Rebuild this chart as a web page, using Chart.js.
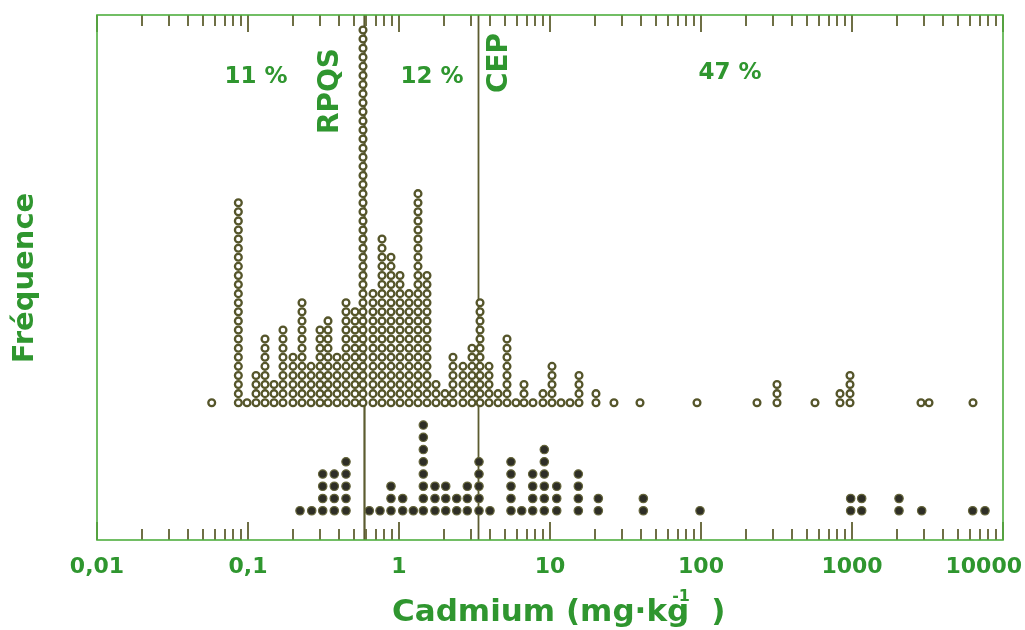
<!DOCTYPE html>
<html><head><meta charset="utf-8">
<script src="https://cdn.jsdelivr.net/npm/chart.js@4.4.1/dist/chart.umd.min.js"></script>
<style>html,body{margin:0;padding:0;background:#fff;}#wrap{width:1025px;height:630px;position:relative;}</style>
</head><body><div id="wrap"><canvas id="c" width="1025" height="630"></canvas></div>
<script>
// ---- data ----
const upperX = [0.0575, 0.0863, 0.0985, 0.113, 0.1296, 0.1487, 0.1705, 0.1986, 0.2279, 0.2614,
  0.2998, 0.3387, 0.3885, 0.4457, 0.5112, 0.5776, 0.6727, 0.7717, 0.885, 1.015,
  1.165, 1.336, 1.532, 1.758, 2.016, 2.278, 2.653, 3.044, 3.44, 3.945,
  4.525, 5.19, 5.954, 6.727, 7.717, 8.987, 10.31, 11.83, 13.57, 15.56,
  20.16, 26.53, 39.45, 94.1, 234.9, 318.6, 568.8, 833, 970, 2864, 3236, 6329];
const upperCount = [1, 23, 1, 4, 8, 3, 9, 6, 12, 5,
  9, 10, 6, 12, 11, 42, 13, 19, 17, 15,
  13, 24, 15, 3, 2, 6, 5, 7, 12, 5,
  2, 8, 1, 3, 1, 2, 5, 1, 1, 4,
  2, 1, 1, 1, 1, 3, 1, 2, 4, 1, 1, 1];
const lowerX = [0.221, 0.2642, 0.3124, 0.3728, 0.4457, 0.6359, 0.7485, 0.885, 1.058, 1.244,
  1.449, 1.731, 2.039, 2.411, 2.834, 3.387, 4.005, 5.516, 6.496, 7.68,
  9.17, 11.08, 15.4, 20.89, 41.5, 98.5, 980, 1159, 2048, 2894, 6299, 7600];
const lowerCount = [1, 1, 4, 4, 5, 1, 1, 3, 2, 1,
  8, 3, 3, 2, 3, 5, 1, 5, 1, 4,
  6, 3, 4, 2, 2, 1, 2, 2, 2, 1, 1, 1];
const tickValues = [0.01, 0.1, 1, 10, 100, 1000, 10000];
const tickLabels = ['0,01', '0,1', '1', '10', '100', '1000', '10000'];
const refValues = [0.585, 3.35];
const refLabels = ['RPQS', 'CEP'];
const shareLabels = ['11 %', '12 %', '47 %'];
const xTitle = 'Cadmium (mg·kg';
const xTitleSup = '-1';
const xTitleEnd = ')';
const yTitle = 'Fréquence';

// ---- build point lists from the arrays ----
function stack(xs, counts) {
  const pts = [];
  xs.forEach((x, i) => { for (let k = 0; k < counts[i]; k++) pts.push({x: x, y: k}); });
  return pts;
}

const GREEN = '#2f962f';
const OLIVE = '#6f6f45';
const FONT = "'DejaVu Sans', sans-serif";

const deco = {
  id: 'deco',
  beforeDatasetsDraw(chart) {
    const ctx = chart.ctx, a = chart.chartArea, xs = chart.scales.x;
    ctx.save();
    ctx.strokeStyle = '#5c5c30';
    refValues.forEach((v, i) => {
      const px = Math.round(xs.getPixelForValue(v)) + 0.5;
      ctx.lineWidth = i === 0 ? 2.2 : 1.8;
      ctx.beginPath(); ctx.moveTo(px, a.top); ctx.lineTo(px, a.bottom); ctx.stroke();
    });
    ctx.restore();
  },
  afterDatasetsDraw(chart) {
    const ctx = chart.ctx, a = chart.chartArea, xs = chart.scales.x;
    ctx.save();
    ctx.strokeStyle = OLIVE; ctx.lineWidth = 2;
    for (let d = -2; d <= 4; d++) {
      for (let m = 1; m <= 9; m++) {
        const v = m * Math.pow(10, d);
        if (v > 10000 * 1.0001) continue;
        const px = Math.round(xs.getPixelForValue(v));
        const major = m === 1;
        const lb = major ? 18 : 11, lt = major ? 17 : 11;
        ctx.beginPath();
        ctx.moveTo(px, a.bottom); ctx.lineTo(px, a.bottom - lb);
        ctx.moveTo(px, a.top); ctx.lineTo(px, a.top + lt);
        ctx.stroke();
      }
    }
    ctx.strokeStyle = '#4fae3f'; ctx.lineWidth = 1.6;
    ctx.strokeRect(a.left, a.top, a.right - a.left, a.bottom - a.top);
    ctx.restore();
  },
  afterDraw(chart) {
    const ctx = chart.ctx, a = chart.chartArea, xs = chart.scales.x;
    ctx.save();
    ctx.fillStyle = GREEN;
    ctx.font = 'bold 22px ' + FONT;
    ctx.textAlign = 'center'; ctx.textBaseline = 'alphabetic';
    tickValues.forEach((v, i) => {
      const w = ctx.measureText(tickLabels[i]).width;
      let px = xs.getPixelForValue(v);
      if (px + w / 2 > 1022) px = 1022 - w / 2;
      ctx.fillText(tickLabels[i], px, 573);
    });
    ctx.textAlign = 'left';
    ctx.font = 'bold 31px ' + FONT;
    ctx.fillText(xTitle, 392, 621);
    const w0 = ctx.measureText(xTitle).width;
    ctx.font = 'bold 16px ' + FONT;
    ctx.fillText(xTitleSup, 392 + w0 - 17, 601);
    ctx.font = 'bold 31px ' + FONT;
    ctx.fillText(xTitleEnd, 392 + w0 + 22, 621);
    ctx.font = 'bold 23px ' + FONT;
    ctx.textAlign = 'center';
    ctx.fillText(shareLabels[0], 256, 83);
    ctx.fillText(shareLabels[1], 432, 83);
    ctx.fillText(shareLabels[2], 730, 79);
    function rot(text, bx, cy, size) {
      ctx.save();
      ctx.translate(bx, cy); ctx.rotate(-Math.PI / 2);
      ctx.font = 'bold ' + size + 'px ' + FONT;
      ctx.textAlign = 'center'; ctx.textBaseline = 'alphabetic';
      ctx.fillText(text, 0, 0);
      ctx.restore();
    }
    rot(refLabels[0], 338, 91, 28);
    rot(refLabels[1], 507, 63, 28);
    rot(yTitle, 33, 278, 29);
    ctx.restore();
  }
};

new Chart(document.getElementById('c'), {
  type: 'scatter',
  data: {
    datasets: [
      {
        label: 'upper', data: stack(upperX, upperCount), yAxisID: 'y',
        pointStyle: 'circle', pointRadius: 3.4, pointBorderWidth: 2.3,
        pointBackgroundColor: '#ffffff', pointBorderColor: '#55552a'
      },
      {
        label: 'lower', data: stack(lowerX, lowerCount), yAxisID: 'y2',
        pointStyle: 'circle', pointRadius: 4.2, pointBorderWidth: 1.2,
        pointBackgroundColor: '#2e2e26', pointBorderColor: '#65653a'
      }
    ]
  },
  options: {
    responsive: false, animation: false, events: [],
    layout: {padding: {left: 97, right: 22, top: 15, bottom: 90}},
    plugins: {legend: {display: false}, tooltip: {enabled: false}},
    scales: {
      x: {type: 'logarithmic', min: 0.01, max: 10000, display: false},
      y: {type: 'linear', min: -15.1, max: 42.65, display: false},
      y2: {type: 'linear', min: -2.39, max: 40.5, display: false}
    }
  },
  plugins: [deco]
});
</script>
</body></html>
